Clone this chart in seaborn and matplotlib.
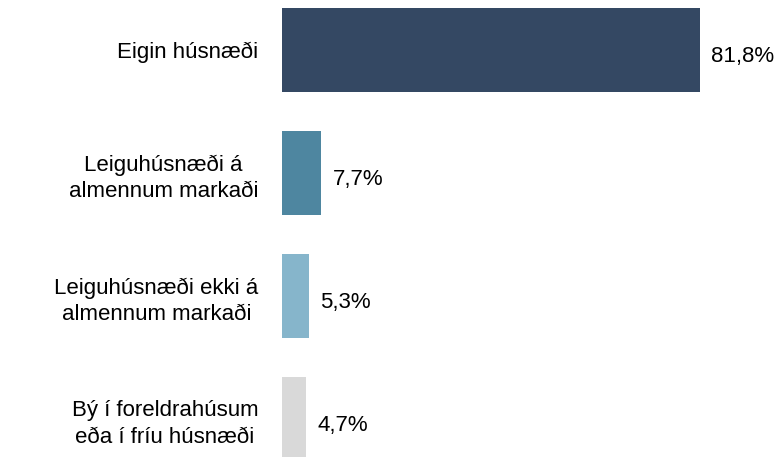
import matplotlib
matplotlib.use("Agg")
import matplotlib.pyplot as plt
import seaborn as sns
import pandas as pd

# Housing status shares
categories = ["Eigin húsnæði",
              "Leiguhúsnæði á\nalmennum markaði",
              "Leiguhúsnæði ekki á\nalmennum markaði",
              "Bý í foreldrahúsum\neða í fríu húsnæði"]
values = [81.8, 7.7, 5.3, 4.7]
labels = ["81,8%", "7,7%", "5,3%", "4,7%"]
colors = ["#344863", "#4e86a0", "#86b5cb", "#d9d9d9"]

df = pd.DataFrame({"cat": categories, "val": values})

sns.set_style("white")
plt.rcParams["font.family"] = ["Liberation Sans", "DejaVu Sans"]
plt.rcParams["text.color"] = "black"
plt.rcParams["ytick.color"] = "black"

fig = plt.figure(figsize=(7.84, 4.57), dpi=100)
ax = fig.add_axes([282 / 784, 0, 511 / 784, 1])

sns.barplot(data=df, x="val", y="cat", hue="cat", palette=colors,
            width=0.68, legend=False, ax=ax, saturation=1, linewidth=0)

ax.set_xlim(0, 100)
ax.set_ylim(3.309, -0.4065)
ax.set_xlabel("")
ax.set_ylabel("")
ax.set_xticks([])
for s in ax.spines.values():
    s.set_visible(False)
ax.tick_params(axis="y", length=0, pad=17, labelsize=16, labelcolor="black")
plt.setp(ax.get_yticklabels(), multialignment="center", linespacing=1.35)

# value labels next to bars
for i, (v, t) in enumerate(zip(values, labels)):
    ax.annotate(t, xy=(v, i), xytext=(8, -5), textcoords="offset points",
                va="center", ha="left", fontsize=16, color="black")

fig.savefig("out.png", dpi=100)
